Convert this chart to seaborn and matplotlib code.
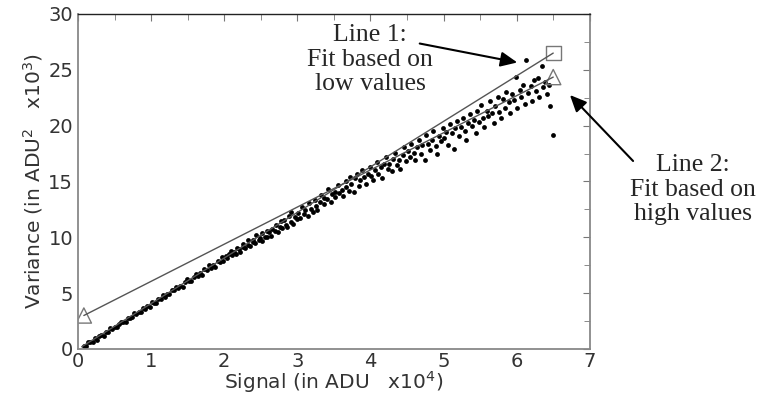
import numpy as np
import pandas as pd
import matplotlib.pyplot as plt
import seaborn as sns
from matplotlib.ticker import MultipleLocator

# Signal (x10^4 ADU) and variance (x10^3 ADU^2)
signal = [
    # low range, tight band
    0.08, 0.11, 0.14, 0.17, 0.20, 0.23, 0.26, 0.29, 0.32, 0.35, 0.38, 0.41, 0.44, 0.47, 0.50, 0.53,
    0.56, 0.59, 0.62, 0.65, 0.68, 0.71, 0.74, 0.77, 0.80, 0.83, 0.86, 0.89, 0.92, 0.95, 0.98,
    1.01, 1.04, 1.07, 1.10, 1.13, 1.16, 1.19, 1.22, 1.25, 1.28, 1.31, 1.34, 1.37, 1.40, 1.43, 1.46,
    1.49, 1.52, 1.55, 1.58, 1.61, 1.64, 1.67, 1.70, 1.73, 1.76, 1.79, 1.82, 1.85, 1.88, 1.91, 1.94,
    1.97, 1.99,
    # 2 - 3
    2.02, 2.04, 2.07, 2.09, 2.11, 2.13, 2.16, 2.18, 2.20, 2.21, 2.25, 2.26, 2.28, 2.32, 2.33, 2.35,
    2.39, 2.40, 2.42, 2.44, 2.47, 2.49, 2.51, 2.52, 2.56, 2.58, 2.59, 2.61, 2.64, 2.66, 2.69, 2.71,
    2.73, 2.76, 2.77, 2.79, 2.82, 2.84, 2.86, 2.89, 2.91, 2.92, 2.94, 2.97, 2.99,
    # 3 - 4.5
    3.01, 3.04, 3.06, 3.09, 3.11, 3.14, 3.16, 3.19, 3.21, 3.24, 3.26, 3.27, 3.31, 3.32, 3.36, 3.37,
    3.41, 3.42, 3.46, 3.47, 3.51, 3.52, 3.56, 3.57, 3.61, 3.62, 3.66, 3.67, 3.71, 3.72, 3.74, 3.77,
    3.79, 3.82, 3.84, 3.86, 3.89, 3.91, 3.94, 3.96, 3.99, 4.01, 4.04, 4.06, 4.09, 4.11, 4.14, 4.16,
    4.19, 4.21, 4.24, 4.26, 4.29, 4.31, 4.34, 4.36, 4.39, 4.41, 4.44, 4.46, 4.49,
    # 4.5 - 6.5
    4.51, 4.54, 4.56, 4.59, 4.61, 4.64, 4.66, 4.69, 4.71, 4.74, 4.76, 4.79, 4.81, 4.84, 4.86, 4.89,
    4.91, 4.94, 4.96, 4.99, 5.01, 5.04, 5.06, 5.09, 5.11, 5.14, 5.16, 5.19, 5.21, 5.24, 5.26, 5.29,
    5.31, 5.34, 5.36, 5.39, 5.41, 5.44, 5.46, 5.49, 5.51, 5.54, 5.56, 5.59, 5.61, 5.64, 5.66, 5.69,
    5.71, 5.74, 5.76, 5.79, 5.81, 5.84, 5.86, 5.89, 5.91, 5.94, 5.96, 5.99, 6.01, 6.04, 6.06, 6.09,
    6.11, 6.13, 6.16, 6.19, 6.21, 6.24, 6.26, 6.29, 6.31, 6.34, 6.36, 6.39, 6.41, 6.44, 6.46, 6.50,
]
variance = [
    0.28, 0.25, 0.59, 0.60, 0.66, 0.99, 0.85, 1.12, 1.29, 1.19, 1.56, 1.55, 1.88, 1.75, 1.97, 1.95,
    2.26, 2.46, 2.39, 2.43, 2.78, 2.82, 2.84, 3.22, 3.16, 3.34, 3.32, 3.66, 3.60, 3.87, 3.79,
    4.17, 4.16, 4.13, 4.50, 4.49, 4.83, 4.68, 4.95, 4.90, 5.27, 5.25, 5.59, 5.43, 5.67, 5.59, 5.99,
    6.23, 6.07, 6.07, 6.46, 6.75, 6.50, 6.77, 6.66, 7.17, 7.07, 7.51, 7.21, 7.55, 7.37, 7.88, 7.77,
    8.28, 7.86,
    8.30, 8.15, 8.55, 8.80, 8.40, 8.65, 8.50, 9.05, 8.95, 8.70, 9.15, 9.40, 9.05, 9.35, 9.80, 9.20,
    9.60, 9.75, 9.45, 10.20, 9.80, 9.95, 9.70, 10.35, 10.05, 10.00, 10.60, 10.45, 10.10, 10.75, 10.55, 11.10,
    10.45, 10.95, 11.45, 10.80, 11.55, 11.10, 10.95, 11.90, 11.40, 12.30, 11.20, 11.85, 11.60,
    12.20, 11.75, 12.75, 12.10, 12.45, 11.90, 13.05, 12.55, 12.30, 13.35, 12.85, 12.45, 13.15, 13.80, 12.95, 13.55,
    13.40, 14.35, 13.20, 13.90, 14.05, 13.60, 14.70, 13.95, 14.20, 13.70, 15.05, 14.50, 14.15, 15.40, 14.80, 14.05,
    15.30, 15.70, 14.60, 15.10, 16.05, 15.40, 14.80, 15.65, 16.30, 15.45, 15.10, 16.00, 16.75, 15.65, 16.30, 15.35,
    16.55, 17.20, 16.15, 16.60, 15.90, 17.00, 17.55, 16.45, 16.95, 16.10, 17.40, 18.05, 16.85,
    17.70, 17.20, 18.35, 17.55, 16.90, 18.10, 18.70, 17.45, 18.25, 16.95, 19.15, 18.40, 17.80, 18.75, 19.55, 18.20,
    17.50, 19.05, 18.65, 19.80, 18.90, 19.45, 18.25, 20.15, 19.30, 17.90, 19.75, 20.40, 19.10, 19.85, 20.70, 19.50,
    18.70, 20.25, 21.05, 19.95, 20.55, 19.30, 21.35, 20.30, 21.85, 20.70, 19.90, 21.30, 20.85, 22.20, 21.15, 20.20,
    21.75, 22.60, 21.20, 20.70, 22.35, 21.60, 23.05, 22.15, 21.10, 22.80, 22.30, 24.40, 21.55, 23.20, 22.55, 23.65,
    21.90, 25.90, 22.90, 23.55, 22.25, 24.05, 23.10, 24.30, 22.60, 25.30, 23.45, 23.95, 22.80, 23.60, 21.80, 19.20,
]

# Fit lines (end points)
fit1_x = [0.05, 6.50]
fit1_y = [0.20, 26.50]
fit2_x = [0.08, 6.50]
fit2_y = [3.00, 24.35]

df = pd.DataFrame({"signal": signal, "variance": variance})

sns.set_style("white")
plt.rcParams["font.family"] = ["DejaVu Sans"]

fig = plt.figure(figsize=(7.61, 4.00), dpi=100)
ax = fig.add_axes([0.1025, 0.1275, 0.6725, 0.8375])

sns.lineplot(x=fit1_x, y=fit1_y, ax=ax, color="#555555", linewidth=1.0, sort=False)
sns.lineplot(x=fit2_x, y=fit2_y, ax=ax, color="#555555", linewidth=1.0, sort=False)
sns.scatterplot(data=df, x="signal", y="variance", ax=ax, color="black", s=12, linewidth=0)

# end markers of the fits
sns.scatterplot(x=[fit2_x[0], fit2_x[1]], y=[fit2_y[0], fit2_y[1]], ax=ax, marker="^", s=120,
                facecolor="none", edgecolor="#777777", linewidth=1.0)
sns.scatterplot(x=[fit1_x[1]], y=[fit1_y[1]], ax=ax, marker="s", s=110,
                facecolor="none", edgecolor="#777777", linewidth=1.0)

ax.set_xlim(0, 7)
ax.set_ylim(0, 30)
ax.xaxis.set_major_locator(MultipleLocator(1))
ax.xaxis.set_minor_locator(MultipleLocator(0.5))
ax.yaxis.set_major_locator(MultipleLocator(5))
ax.yaxis.set_minor_locator(MultipleLocator(2.5))
ax.tick_params(which="both", direction="in", top=True, right=True, colors="#777777",
               labelcolor="#333333", labelsize=14)
ax.tick_params(which="major", length=5)
ax.tick_params(which="minor", length=4)
ax.tick_params(axis="x", pad=2)

for side in ["left", "bottom", "right"]:
    ax.spines[side].set_color("#888888")
    ax.spines[side].set_linewidth(1.3)
ax.spines["top"].set_color("#222222")
ax.spines["top"].set_linewidth(1.0)

ax.set_xlabel("Signal (in ADU   x10$^4$)", fontsize=14.5, color="#333333", labelpad=-1)
ax.set_ylabel("Variance (in ADU$^2$   x10$^3$)", fontsize=14.5, color="#333333", labelpad=2)

# annotations
serif = ["Liberation Serif", "DejaVu Serif"]
fig.text(370 / 761, 1 - 24 / 400, "Line 1:\nFit based on\nlow values", ha="center", va="top",
         fontsize=18.5, family=serif, linespacing=1.15)
fig.text(693 / 761, 1 - 154 / 400, "Line 2:\nFit based on\nhigh values", ha="center", va="top",
         fontsize=18.5, family=serif, linespacing=1.15)
ax.annotate("", xy=(520, 400 - 63), xycoords="figure pixels", xytext=(417, 400 - 43),
            textcoords="figure pixels",
            arrowprops=dict(arrowstyle="-|>,head_length=1.0,head_width=0.45", color="black", lw=1.5))
ax.annotate("", xy=(568, 400 - 93), xycoords="figure pixels", xytext=(635, 400 - 163),
            textcoords="figure pixels",
            arrowprops=dict(arrowstyle="-|>,head_length=1.0,head_width=0.45", color="black", lw=1.5))

fig.savefig("out.png", dpi=100)
